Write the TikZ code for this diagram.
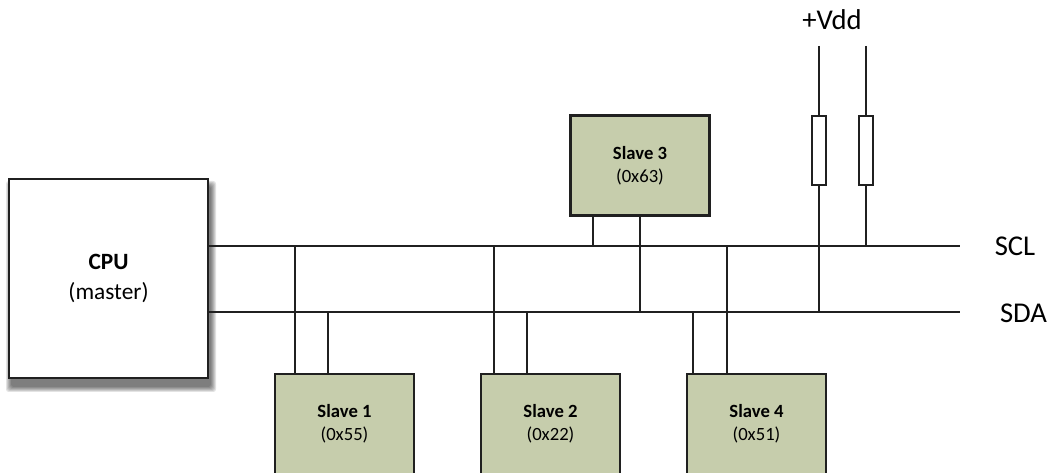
\documentclass[tikz,border=0pt]{standalone}
\usepackage{fontspec}
\setmainfont{Carlito}
\usetikzlibrary{calc}
\definecolor{slavefill}{HTML}{C6CDAC}
\definecolor{ink}{HTML}{202020}
\tikzset{
  x=0.75pt,y=-0.75pt,
  wire/.style={draw=ink,line width=1.4pt},
  slave/.style={draw=ink,line width=1.6pt,fill=slavefill,minimum width=104.25pt,minimum height=75pt,inner sep=0pt,align=center,font=\fontsize{14pt}{17.25pt}\selectfont},
  master/.style={draw=ink,line width=2pt,fill=white,minimum width=149.25pt,minimum height=149.25pt,inner sep=0pt,align=center,font=\fontsize{17.5pt}{22.5pt}\selectfont},
  resistor/.style={draw=ink,line width=1.4pt,fill=white,minimum width=10pt,minimum height=51.75pt,inner sep=0pt},
  buslabel/.style={font=\fontsize{21.5pt}{24pt}\selectfont,inner sep=0pt},
  haze/.style={fill=black,opacity=0.11,rounded corners=2pt}
}
\begin{document}
\begin{tikzpicture}
\useasboundingbox (0,0) rectangle (1052,473);
% soft shadow of the CPU box
\foreach \g in {0,1,2,3,4,5}{
  \path[haze] ({6+\g},{181+\g}) rectangle ({216-\g},{392-\g});
}
\node[master] (cpu) at (108.5,278.5) {\textbf{CPU}\\(master)};
\node[slave] (s1) at (344.5,424) {\textbf{Slave 1}\\(0x55)};
\node[slave] (s2) at (550.5,424) {\textbf{Slave 2}\\(0x22)};
\node[slave] (s4) at (756.5,424) {\textbf{Slave 4}\\(0x51)};
\node[slave] (s3) at (640,165.5) {\textbf{Slave 3}\\(0x63)};
\node[resistor] (r1) at (819,150.5) {};
\node[resistor] (r2) at (866,150.5) {};
\coordinate (vdda) at (819,46);
\coordinate (vddb) at (866,46);
\coordinate (sclL) at (208,246);
\coordinate (sclR) at (960,246);
\coordinate (sdaL) at (208,312);
\coordinate (sdaR) at (960,312);
\coordinate (a1) at (295,246);
\coordinate (b1) at (328,312);
\coordinate (a2) at (494,246);
\coordinate (b2) at (527,312);
\coordinate (a4) at (727,246);
\coordinate (b4) at (693,312);
\coordinate (a3) at (593,246);
\coordinate (b3) at (640,312);
\draw[wire] (sclL) -- (sclR);
\draw[wire] (sdaL) -- (sdaR);
\draw[wire] (a1) -- (a1 |- s1.north);
\draw[wire] (b1) -- (b1 |- s1.north);
\draw[wire] (a2) -- (a2 |- s2.north);
\draw[wire] (b2) -- (b2 |- s2.north);
\draw[wire] (a4) -- (a4 |- s4.north);
\draw[wire] (b4) -- (b4 |- s4.north);
\draw[wire] (a3) -- (a3 |- s3.south);
\draw[wire] (b3) -- (b3 |- s3.south);
\draw[wire] (vdda) -- (r1.north);
\draw[wire] (vddb) -- (r2.north);
\draw[wire] (r1.south) -- (r1.south |- sdaR);
\draw[wire] (r2.south) -- (r2.south |- sclR);
\node[buslabel] (vdd) at (832,20) {+Vdd};
\node[buslabel] (scl) at (1015,246) {SCL};
\node[buslabel] (sda) at (1023.5,313) {SDA};
\end{tikzpicture}
\end{document}
